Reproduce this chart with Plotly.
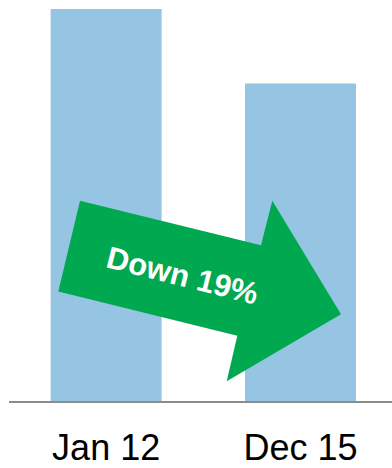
import plotly.graph_objects as go

# Data
periods = ["Jan 12", "Dec 15"]
index_values = [100, 81]
change_label = "Down 19%"

W, H = 392, 468
M_L, M_R, M_T, M_B = 9, 0, 9, 63
PLOT_W = W - M_L - M_R
PLOT_H = H - M_T - M_B


def to_paper(px, py):
    """Convert a position in page pixels to paper coordinates."""
    return (px - M_L) / PLOT_W, (H - M_B - py) / PLOT_H


fig = go.Figure()
fig.add_trace(go.Bar(
    x=periods,
    y=index_values,
    marker=dict(color="#95C5E2", line=dict(width=0)),
    width=0.571,
    hoverinfo="skip",
))

# Green block arrow pointing down-right across the bars
arrow_px = [
    (80, 202.7), (261, 247.7), (272.3, 202.7), (341, 317.3),
    (226.7, 385), (237.3, 339), (58.3, 294.3),
]
pts = [to_paper(x, y) for x, y in arrow_px]
path = "M " + " L ".join(f"{x:.4f},{y:.4f}" for x, y in pts) + " Z"
fig.add_shape(
    type="path", path=path, xref="paper", yref="paper",
    fillcolor="#00A84F", line=dict(width=0), layer="above",
)

tx, ty = to_paper(182, 278)
fig.add_annotation(
    x=tx, y=ty, xref="paper", yref="paper",
    text=f"<b>{change_label}</b>", showarrow=False,
    textangle=14, xanchor="center", yanchor="middle",
    font=dict(family="Liberation Sans, Arial, sans-serif", size=31, color="white"),
)

fig.update_layout(
    width=W, height=H,
    margin=dict(l=M_L, r=M_R, t=M_T, b=M_B, pad=0),
    paper_bgcolor="white", plot_bgcolor="white",
    showlegend=False,
    xaxis=dict(
        range=[-0.5, 1.471],
        showgrid=False, zeroline=False,
        showline=True, linecolor="#8C8C8C", linewidth=2,
        ticks="", ticklabelstandoff=14,
        tickfont=dict(family="Liberation Sans, Arial, sans-serif", size=36, color="black"),
        fixedrange=True,
    ),
    yaxis=dict(
        range=[0, 100], visible=False, showgrid=False, zeroline=False,
        fixedrange=True,
    ),
)

fig.write_html("out.html")
